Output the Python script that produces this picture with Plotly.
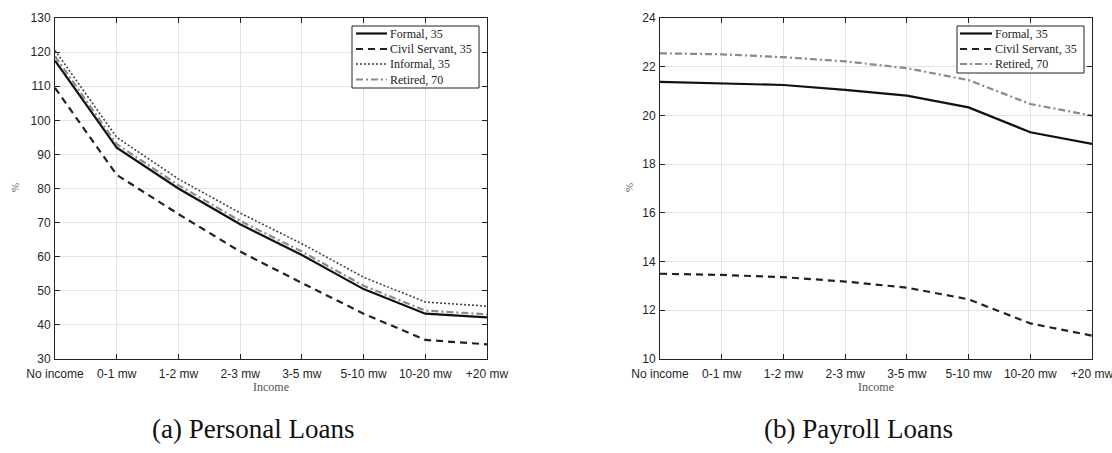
import plotly.graph_objects as go
from plotly.subplots import make_subplots

# Income brackets (multiples of the minimum wage)
income = ["No income", "0-1 mw", "1-2 mw", "2-3 mw", "3-5 mw", "5-10 mw", "10-20 mw", "+20 mw"]

# (a) Personal loans, interest rate %
personal_formal = [117.5, 92.0, 80.0, 69.5, 60.5, 50.5, 43.3, 42.2]
personal_civil = [109.5, 84.0, 72.5, 61.5, 52.3, 43.3, 35.6, 34.3]
personal_informal = [120.5, 95.0, 82.8, 72.8, 63.8, 54.0, 46.7, 45.5]
personal_retired = [118.8, 93.0, 81.0, 70.5, 61.5, 51.5, 44.2, 43.1]

# (b) Payroll loans, interest rate %
payroll_formal = [21.38, 21.33, 21.25, 21.05, 20.81, 20.33, 19.31, 18.83]
payroll_civil = [13.50, 13.45, 13.36, 13.18, 12.93, 12.45, 11.46, 10.96]
payroll_retired = [22.55, 22.51, 22.39, 22.22, 21.94, 21.45, 20.47, 19.99]

W, H = 1112, 453
SERIF = "Liberation Serif"
SANS = "Liberation Sans"

styles = {
    "Formal, 35": dict(color="#111111", width=2.2, dash="solid"),
    "Civil Servant, 35": dict(color="#222222", width=2.2, dash="7px,5px"),
    "Informal, 35": dict(color="#444444", width=1.6, dash="2px,2px"),
    "Retired, 70": dict(color="#8a8a8a", width=2.2, dash="7px,3px,2px,3px"),
}

left_series = [
    ("Formal, 35", personal_formal),
    ("Civil Servant, 35", personal_civil),
    ("Informal, 35", personal_informal),
    ("Retired, 70", personal_retired),
]
right_series = [
    ("Formal, 35", payroll_formal),
    ("Civil Servant, 35", payroll_civil),
    ("Retired, 70", payroll_retired),
]

fig = make_subplots(rows=1, cols=2)

for name, vals in left_series:
    fig.add_trace(go.Scatter(x=income, y=vals, mode="lines", name=name,
                             line=styles[name], showlegend=False), row=1, col=1)
for name, vals in right_series:
    fig.add_trace(go.Scatter(x=income, y=vals, mode="lines", name=name,
                             line=styles[name], showlegend=False), row=1, col=2)


def px_x(p):
    return p / W


def px_y(p):
    return 1 - p / H


axis_common = dict(
    showline=True, linecolor="#222222", linewidth=1, mirror="ticks",
    ticks="inside", ticklen=5, tickcolor="#222222",
    showgrid=True, gridcolor="#e3e3e3", gridwidth=1,
    zeroline=False, automargin=False,
    tickfont=dict(family=SANS, size=12, color="#262626"),
)

fig.update_xaxes(**axis_common, type="category", range=[0, 7], ticklabelstandoff=4)
fig.update_yaxes(**axis_common, ticklabelstandoff=1)

fig.update_layout(
    xaxis=dict(domain=[px_x(55), px_x(487)]),
    xaxis2=dict(domain=[px_x(660), px_x(1092)]),
    yaxis=dict(domain=[px_y(359), px_y(18)], range=[30, 130], dtick=10),
    yaxis2=dict(domain=[px_y(359), px_y(18)], range=[10, 24], dtick=2),
)

shapes = []
annotations = []


def add_legend(box, sample_x, text_x, row_y, entries):
    x0, y0, x1, y1 = box
    shapes.append(dict(type="rect", xref="paper", yref="paper",
                       x0=px_x(x0), x1=px_x(x1), y0=px_y(y1), y1=px_y(y0),
                       line=dict(color="#222222", width=1), fillcolor="white", layer="above"))
    for i, name in enumerate(entries):
        yy = row_y[i]
        st = styles[name]
        shapes.append(dict(type="line", xref="paper", yref="paper",
                           x0=px_x(sample_x[0]), x1=px_x(sample_x[1]),
                           y0=px_y(yy), y1=px_y(yy), layer="above",
                           line=dict(color=st["color"], width=st["width"], dash=st["dash"])))
        annotations.append(dict(x=px_x(text_x), y=px_y(yy), xref="paper", yref="paper",
                                text=name, showarrow=False, xanchor="left", yanchor="middle",
                                font=dict(family=SERIF, size=12, color="#222222")))


add_legend((352, 26, 479, 88), (356, 387), 388, [33.5, 49, 64, 79.5],
           [n for n, _ in left_series])
add_legend((957, 26, 1084, 73), (960, 992), 993, [33.5, 49, 64],
           [n for n, _ in right_series])

for cx, label in [(253, "(a) Personal Loans"), (858, "(b) Payroll Loans")]:
    annotations.append(dict(x=px_x(cx), y=px_y(429), xref="paper", yref="paper",
                            text=label, showarrow=False, xanchor="center", yanchor="middle",
                            font=dict(family=SERIF, size=27, color="#111111")))
for cx in [(55 + 487) / 2, (660 + 1092) / 2]:
    annotations.append(dict(x=px_x(cx), y=px_y(387), xref="paper", yref="paper",
                            text="Income", showarrow=False, xanchor="center", yanchor="middle",
                            font=dict(family=SERIF, size=12, color="#555555")))
for cx in [15, 629]:
    annotations.append(dict(x=px_x(cx), y=px_y(188), xref="paper", yref="paper",
                            text="%", showarrow=False, xanchor="center", yanchor="middle",
                            textangle=-90,
                            font=dict(family=SERIF, size=11, color="#555555")))

fig.update_layout(
    width=W, height=H,
    margin=dict(l=0, r=0, t=0, b=0),
    paper_bgcolor="white", plot_bgcolor="white",
    shapes=shapes,
    annotations=annotations,
    showlegend=False,
)

fig.write_html("out.html")
